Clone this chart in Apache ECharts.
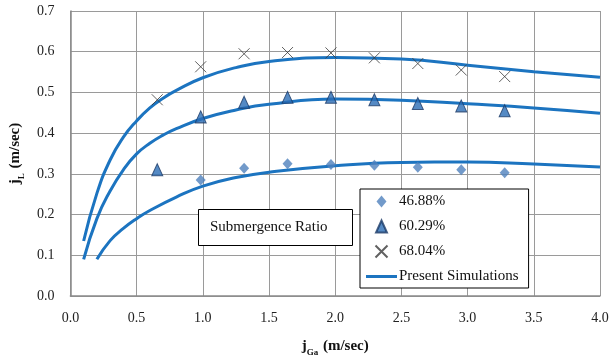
<!DOCTYPE html>
<html>
<head>
<meta charset="utf-8">
<script src="https://cdn.jsdelivr.net/npm/echarts@6/dist/echarts.min.js"></script>
<style>html,body{margin:0;padding:0;background:#fff;}#c{width:615px;height:363px;}</style>
</head>
<body>
<div id="c"></div>
<script>
// Measured points (x = superficial gas velocity, y = liquid velocity)
const xPts = [0.656, 0.984, 1.312, 1.64, 1.968, 2.296, 2.624, 2.952, 3.28];
const xDiamond = [0.984, 1.312, 1.64, 1.968, 2.296, 2.624, 2.952, 3.28];
const yDiamond = [0.285, 0.314, 0.325, 0.323, 0.321, 0.316, 0.310, 0.303];
const yTriangle = [0.310, 0.440, 0.476, 0.488, 0.488, 0.482, 0.473, 0.467, 0.455];
const yCross = [0.482, 0.563, 0.595, 0.598, 0.597, 0.585, 0.571, 0.555, 0.539];

// Simulation curves
const xSimUpper = [0.1, 0.2, 0.3, 0.4, 0.5, 0.6, 0.7, 0.8, 1.0, 1.25, 1.5, 2.0, 2.5, 3.0, 3.5, 4.0];
const ySimUpper = [0.135, 0.252, 0.334, 0.390, 0.430, 0.462, 0.486, 0.505, 0.536, 0.561, 0.576, 0.586, 0.582, 0.567, 0.551, 0.537];
const xSimMiddle = [0.1, 0.2, 0.3, 0.4, 0.5, 0.6, 0.7, 0.8, 1.0, 1.25, 1.5, 2.0, 2.5, 3.0, 3.5, 4.0];
const ySimMiddle = [0.090, 0.190, 0.258, 0.310, 0.349, 0.375, 0.395, 0.411, 0.436, 0.457, 0.471, 0.484, 0.481, 0.472, 0.462, 0.449];
const xSimLower = [0.2, 0.3, 0.4, 0.5, 0.6, 0.8, 1.0, 1.25, 1.5, 2.0, 2.5, 3.0, 3.5, 4.0];
const ySimLower = [0.090, 0.136, 0.166, 0.190, 0.210, 0.243, 0.270, 0.291, 0.304, 0.320, 0.328, 0.329, 0.324, 0.317];

const seriesNames = ['46.88%', '60.29%', '68.04%', 'Present Simulations'];
const annotation = 'Submergence Ratio';

const zip = (xs, ys) => xs.map((x, i) => [x, ys[i]]);
const FONT = '"Liberation Serif", "Times New Roman", serif';
const LINE_COLOR = '#1c74c0';
const crossPath = 'path://M0,0L10,10M10,0L0,10';
const diamondPath = 'path://M5,0L10,6L5,12L0,6Z';
const trianglePath = 'path://M5,0L10,11L0,11Z';
const lineIconPath = 'path://M0,0L31,0L31,3L0,3Z';

const chart = echarts.init(document.getElementById('c'), null, {renderer: 'canvas'});
const lineSeries = (xs, ys) => ({
  name: seriesNames[3], type: 'line', smooth: 0.5, symbol: 'none', z: 2,
  data: zip(xs, ys),
  lineStyle: {color: LINE_COLOR, width: 3},
  itemStyle: {color: LINE_COLOR}
});

chart.setOption({
  animation: false,
  backgroundColor: '#fff',
  textStyle: {fontFamily: FONT},
  grid: {left: 63, right: 15, top: 11, bottom: 67, containLabel: false},
  title: {
    text: annotation, left: 198, top: 209,
    padding: [11, 25, 11, 12],
    borderColor: '#000', borderWidth: 1, backgroundColor: '#fff',
    textStyle: {fontFamily: FONT, fontSize: 15, fontWeight: 'normal', color: '#111'}
  },
  legend: {
    orient: 'vertical', left: 360, top: 189,
    padding: [5, 10, 4, 6],
    borderColor: '#000', borderWidth: 1, backgroundColor: '#fff',
    itemWidth: 31, itemHeight: 12, itemGap: 10, symbolKeepAspect: true,
    textStyle: {fontFamily: FONT, fontSize: 15, color: '#111', padding: [0, 0, 0, -3]},
    data: [
      {name: seriesNames[0], icon: diamondPath},
      {name: seriesNames[1], icon: trianglePath},
      {name: seriesNames[2], icon: crossPath},
      {name: seriesNames[3], icon: lineIconPath, itemStyle: {color: LINE_COLOR}}
    ]
  },
  xAxis: {
    type: 'value', min: 0, max: 4, interval: 0.5,
    name: '{b|j}{s|Ga}{b| (m/sec)}', nameLocation: 'middle', nameGap: 40,
    nameTextStyle: {rich: {
      b: {fontFamily: FONT, fontSize: 15, fontWeight: 'bold', color: '#111', lineHeight: 18, verticalAlign: 'bottom'},
      s: {fontFamily: FONT, fontSize: 9, fontWeight: 'bold', color: '#111', lineHeight: 18, verticalAlign: 'bottom', padding: [0, 1, -3, 0]}
    }},
    axisLine: {lineStyle: {color: '#8a8a8a', width: 1.5}},
    axisTick: {show: false},
    axisLabel: {fontFamily: FONT, fontSize: 14, color: '#222', margin: 15, formatter: v => v.toFixed(1)},
    splitLine: {show: true, lineStyle: {color: '#9a9a9a', width: 1}}
  },
  yAxis: {
    type: 'value', min: 0, max: 0.7, interval: 0.1,
    name: '{b|j}{s|L}{b| (m/sec)}', nameLocation: 'middle', nameGap: 38,
    nameTextStyle: {rich: {
      b: {fontFamily: FONT, fontSize: 15, fontWeight: 'bold', color: '#111', lineHeight: 18, verticalAlign: 'bottom'},
      s: {fontFamily: FONT, fontSize: 9, fontWeight: 'bold', color: '#111', lineHeight: 18, verticalAlign: 'bottom', padding: [0, 1, -3, 0]}
    }},
    axisLine: {show: true, lineStyle: {color: '#8a8a8a', width: 1.5}},
    axisTick: {show: false},
    axisLabel: {fontFamily: FONT, fontSize: 14, color: '#222', margin: 16, formatter: v => v.toFixed(1)},
    splitLine: {show: true, lineStyle: {color: '#9a9a9a', width: 1}}
  },
  series: [
    {
      name: seriesNames[0], type: 'scatter', symbol: 'diamond', symbolSize: [10, 11], z: 3,
      data: zip(xDiamond, yDiamond),
      itemStyle: {color: '#4f81bd'}
    },
    {
      name: seriesNames[1], type: 'scatter', symbol: 'triangle', symbolSize: [11, 12], z: 3,
      data: zip(xPts, yTriangle),
      itemStyle: {color: '#2a6db5', borderColor: '#1b3a66', borderWidth: 1}
    },
    {
      name: seriesNames[2], type: 'scatter', symbol: crossPath, symbolSize: 11, z: 3,
      data: zip(xPts, yCross),
      itemStyle: {color: 'rgba(0,0,0,0)', borderColor: '#3a3a3a', borderWidth: 1}
    },
    lineSeries(xSimUpper, ySimUpper),
    lineSeries(xSimMiddle, ySimMiddle),
    lineSeries(xSimLower, ySimLower)
  ]
});
</script>
</body>
</html>
